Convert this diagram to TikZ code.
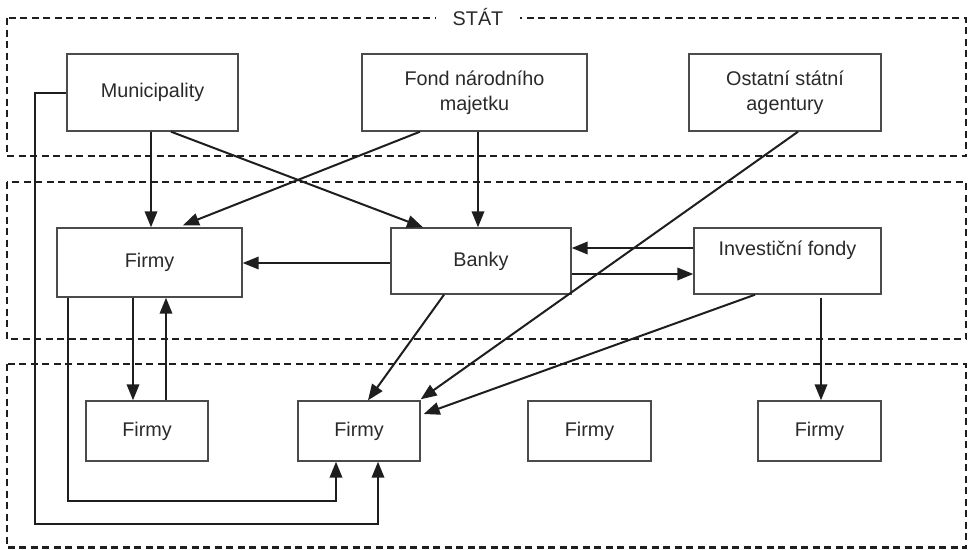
\documentclass[tikz,border=0pt]{standalone}
\usepackage{fontspec}
\setmainfont{Liberation Sans}
\usetikzlibrary{arrows.meta}
\definecolor{ink}{HTML}{1E1E1E}
\definecolor{txt}{HTML}{2A2A2A}
\begin{document}
\begin{tikzpicture}[x=1pt,y=-1pt,
  font=\fontsize{19.8}{25}\selectfont,
  box/.style={draw=ink!80,line width=1.4pt,fill=white,text=txt,align=center,inner sep=0pt},
  arr/.style={draw=ink,line width=2pt,-{Triangle[length=16pt,width=12.5pt]}},
  zone/.style={draw=ink,line width=2.7pt,dash pattern=on 7pt off 4.5pt}]
\useasboundingbox (0,0) rectangle (969,549);
% zones
\draw[zone] (7,18) rectangle (966,156);
\node[fill=white,text=txt,inner xsep=17pt,inner ysep=2pt] (stat) at (478,17) {STÁT};
\draw[zone] (7,182) rectangle (966,339);
\draw[zone] (7,364) rectangle (966,547.5);
% nodes
\node[box,minimum width=171pt,minimum height=77pt] (muni) at (152.5,92.5) {Municipality};
\node[box,minimum width=225pt,minimum height=77pt] (fond) at (474.5,92.5) {Fond národního\\majetku};
\node[box,minimum width=192pt,minimum height=77pt] (ost) at (785,92.5) {Ostatní státní\\agentury};
\node[box,minimum width=185pt,minimum height=69pt] (firmy) at (149.5,262.5) {Firmy};
\node[box,minimum width=180pt,minimum height=66pt] (banky) at (481,261) {Banky};
\node[box,minimum width=187pt,minimum height=66pt,
  label={[text=txt,yshift=11pt,name=invtext]center:Investiční fondy}] (inv) at (787.5,261) {};
\node[box,minimum width=122pt,minimum height=60pt] (f1) at (147,431) {Firmy};
\node[box,minimum width=122pt,minimum height=60pt] (f2) at (359,431) {Firmy};
\node[box,minimum width=123pt,minimum height=60pt] (f3) at (589.5,431) {Firmy};
\node[box,minimum width=123pt,minimum height=60pt] (f4) at (819.5,431) {Firmy};
% connectors
\draw[arr] ([xshift=-1.5pt]muni.south) -- ([xshift=-1.5pt]muni.south |- firmy.north);
\draw[arr] ([xshift=18.5pt]muni.south) -- ([xshift=-58pt]banky.north);
\draw[arr] ([xshift=-54.5pt]fond.south) -- ([xshift=33.5pt,yshift=2pt]firmy.north);
\draw[arr] ([xshift=3.5pt]fond.south) -- ([xshift=3.5pt]fond.south |- banky.north);
\draw[arr] ([xshift=13pt]ost.south) -- ([yshift=1pt]f2.north east);
\draw[arr] ([yshift=-2pt]banky.west) -- ([yshift=-2pt]banky.west -| firmy.east);
\draw[arr] ([yshift=13pt]inv.west) -- ([yshift=13pt]inv.west -| banky.east);
\draw[arr] ([yshift=-13pt]banky.east) -- ([yshift=-13pt]banky.east -| inv.west);
\draw[arr] ([xshift=-37pt]banky.south) -- ([xshift=9pt]f2.north);
\draw[arr] ([xshift=-32.5pt]inv.south) -- ([xshift=3pt,yshift=17pt]f2.east);
\draw[arr] ([xshift=33.5pt,yshift=-3pt]inv.south) -- ([xshift=33.5pt]inv.south |- f4.north);
\draw[arr] ([xshift=-16.5pt]firmy.south) -- ([xshift=-16.5pt]firmy.south |- f1.north);
\draw[arr] ([xshift=19pt]f1.north) -- ([xshift=19pt]f1.north |- firmy.south);
\draw[arr] ([xshift=-81.5pt]firmy.south) -- ++(0,203) -| ([xshift=-23pt]f2.south);
\draw[arr] (muni.west) -- ++(-31,0) -- ++(0,431) -| ([xshift=19pt]f2.south);
\end{tikzpicture}
\end{document}
